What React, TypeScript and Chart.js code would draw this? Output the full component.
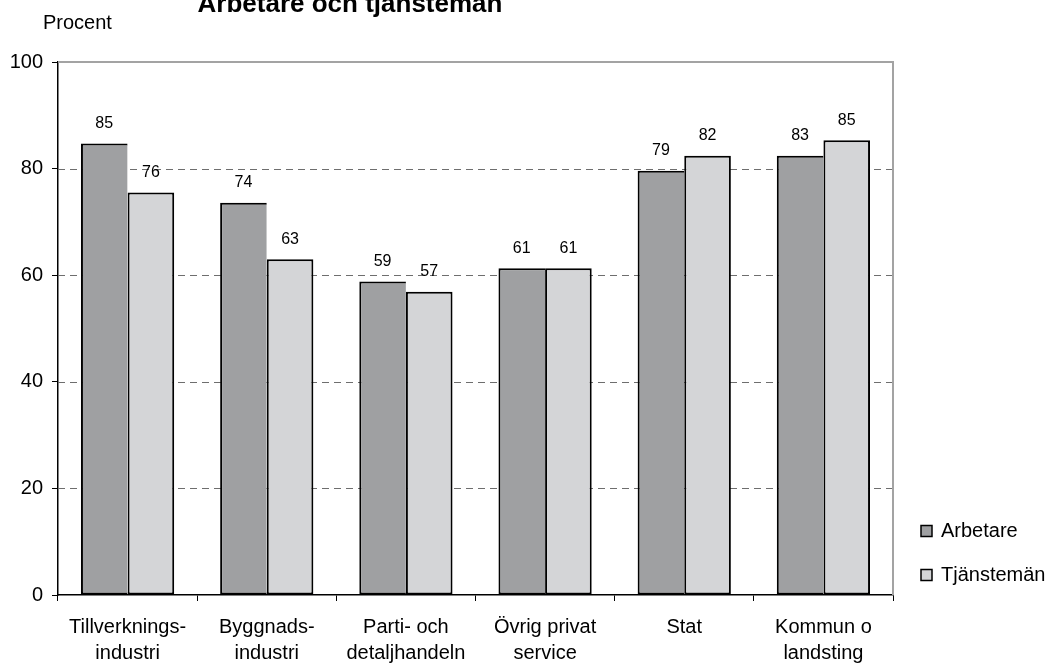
import React, { useEffect, useRef } from "react";
import { Chart, registerables } from "chart.js";

Chart.register(...registerables);

const categories: string[][] = [
  ["Tillverknings-", "industri"],
  ["Byggnads-", "industri"],
  ["Parti- och", "detaljhandeln"],
  ["Övrig privat", "service"],
  ["Stat"],
  ["Kommun o", "landsting"],
];
const seriesNames = ["Arbetare", "Tjänstemän"];
const arbetare = [84.7, 73.6, 58.8, 61.3, 79.6, 82.4];
const tjansteman = [75.5, 63.0, 56.9, 61.3, 82.4, 85.3];
const arbetareLabels = ["85", "74", "59", "61", "79", "83"];
const tjanstemanLabels = ["76", "63", "57", "61", "82", "85"];
const yMin = 0;
const yMax = 100;
const yStep = 20;
const chartTitle = "Arbetare och tjänstemän";
const yAxisTitle = "Procent";

const FONT = "'Liberation Sans', Arial, Helvetica, sans-serif";
const colors = ["#9fa0a2", "#d4d5d7"];

const decorPlugin = {
  id: "decor",
  beforeDatasetsDraw(chart: any) {
    const { ctx, chartArea } = chart;
    const y = chart.scales.y;
    ctx.save();
    ctx.strokeStyle = "#6e6e6e";
    ctx.lineWidth = 1;
    ctx.setLineDash([7, 5]);
    y.ticks.forEach((t: any) => {
      if (t.value > yMin && t.value < yMax) {
        const py = Math.round(y.getPixelForValue(t.value)) + 0.5;
        ctx.beginPath();
        ctx.moveTo(chartArea.left, py);
        ctx.lineTo(chartArea.right, py);
        ctx.stroke();
      }
    });
    ctx.setLineDash([]);
    ctx.strokeStyle = "#a3a3a3";
    ctx.lineWidth = 2;
    const top = y.getPixelForValue(yMax);
    ctx.beginPath();
    ctx.moveTo(chartArea.left, top);
    ctx.lineTo(chartArea.right, top);
    ctx.lineTo(chartArea.right, chartArea.bottom);
    ctx.stroke();
    ctx.restore();
  },
  afterDatasetsDraw(chart: any) {
    const { ctx } = chart;
    ctx.save();
    ctx.font = `16px ${FONT}`;
    ctx.fillStyle = "#000";
    ctx.textAlign = "center";
    ctx.textBaseline = "middle";
    const labelSets = [arbetareLabels, tjanstemanLabels];
    chart.data.datasets.forEach((_ds: any, di: number) => {
      const meta = chart.getDatasetMeta(di);
      meta.data.forEach((el: any, i: number) => {
        ctx.fillText(labelSets[di][i], el.x, el.y - 20);
      });
    });
    ctx.font = `bold 26px ${FONT}`;
    ctx.textBaseline = "alphabetic";
    ctx.textAlign = "center";
    ctx.fillText(chartTitle, 350, 12);
    ctx.font = `20px ${FONT}`;
    ctx.textAlign = "left";
    ctx.textBaseline = "middle";
    ctx.fillText(yAxisTitle, 43, 23);
    chart.data.datasets.forEach((ds: any, di: number) => {
      const cy = 531 + di * 44;
      ctx.fillStyle = ds.backgroundColor;
      ctx.fillRect(921, cy - 5.5, 11, 11);
      ctx.strokeStyle = "#000";
      ctx.lineWidth = 1.5;
      ctx.strokeRect(921, cy - 5.5, 11, 11);
      ctx.fillStyle = "#000";
      ctx.font = `20px ${FONT}`;
      ctx.textAlign = "left";
      ctx.textBaseline = "middle";
      ctx.fillText(ds.label, 941, cy);
    });
    ctx.restore();
  },
};

export default function App() {
  const ref = useRef<HTMLCanvasElement | null>(null);
  useEffect(() => {
    if (!ref.current) return;
    const chart = new Chart(ref.current, {
      type: "bar",
      data: {
        labels: categories,
        datasets: [
          {
            label: seriesNames[0],
            data: arbetare,
            backgroundColor: colors[0],
            borderColor: "#000",
            borderWidth: { top: 2, left: 2, bottom: 2, right: 0 },
            borderSkipped: false,
            categoryPercentage: 0.67,
            barPercentage: 1,
          },
          {
            label: seriesNames[1],
            data: tjansteman,
            backgroundColor: colors[1],
            borderColor: "#000",
            borderWidth: { top: 2, left: 2, bottom: 2, right: 2 },
            borderSkipped: false,
            categoryPercentage: 0.67,
            barPercentage: 1,
          },
        ],
      },
      options: {
        animation: false,
        responsive: false,
        devicePixelRatio: 1,
        layout: { padding: { left: 0, top: 62, right: 155, bottom: 0 } },
        plugins: {
          legend: { display: false },
          title: { display: false },
          tooltip: { enabled: false },
        },
        scales: {
          x: {
            afterFit: (s: any) => {
              s.height = 68;
            },
            grid: {
              offset: true,
              drawOnChartArea: false,
              drawTicks: true,
              tickLength: 6,
              tickColor: "#000",
              tickWidth: 1,
            },
            border: { display: true, color: "#000", width: 1.5 },
            ticks: {
              color: "#000",
              padding: 13,
              maxRotation: 0,
              autoSkip: false,
              font: { family: FONT, size: 20, lineHeight: 1.3 },
            },
          },
          y: {
            min: yMin,
            max: yMax,
            afterFit: (s: any) => {
              s.width = 58;
            },
            grid: {
              drawOnChartArea: false,
              drawTicks: true,
              tickLength: 6,
              tickColor: "#000",
              tickWidth: 1,
            },
            border: { display: true, color: "#000", width: 1.5 },
            ticks: {
              stepSize: yStep,
              color: "#000",
              padding: 9,
              font: { family: FONT, size: 20 },
            },
          },
        },
      },
      plugins: [decorPlugin],
    } as any);
    return () => chart.destroy();
  }, []);
  return (
    <div style={{ position: "fixed", left: 0, top: 0, width: 1048, height: 663, background: "#fff" }}>
      <canvas ref={ref} width={1048} height={663} style={{ display: "block", width: 1048, height: 663 }} />
    </div>
  );
}
